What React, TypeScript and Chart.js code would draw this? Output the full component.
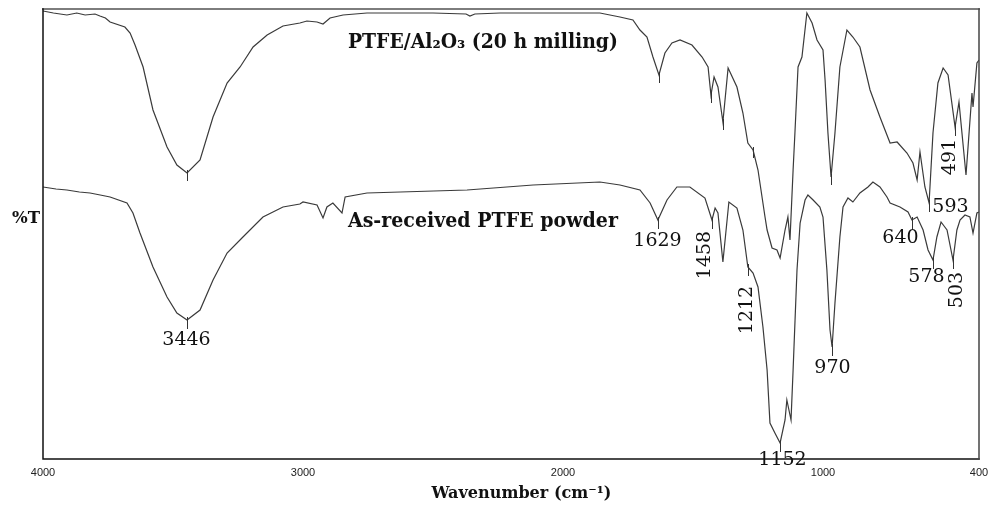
import React, { useEffect, useRef } from 'react';
import { Chart, registerables } from 'chart.js';

Chart.register(...registerables);

// ---- Data (wavenumber in cm-1, %T in arbitrary units) ----
const milledWavenumbers = [
  4000, 3960, 3908, 3870, 3838, 3800, 3781, 3760, 3742, 3685, 3665, 3646, 3615, 3577, 3523, 3485, 3446,
  3396, 3346, 3292, 3242, 3192, 3138, 3077, 3012, 2985, 2946, 2923, 2896, 2846, 2754, 2500, 2373, 2358,
  2339, 2242, 1858, 1781, 1731, 1704, 1677, 1654, 1631, 1608, 1581, 1550, 1504, 1465, 1442, 1431, 1419,
  1404, 1385, 1365, 1331, 1308, 1289, 1269, 1250, 1223, 1215, 1196, 1177, 1165, 1146, 1135, 1127, 1115,
  1108, 1096, 1081, 1062, 1042, 1023, 1000, 992, 981, 969, 954, 935, 908, 885, 858, 819, 781, 742, 715,
  677, 654, 638, 627, 608, 592, 577, 558, 538, 519, 492, 477, 450, 427, 423, 408, 400,
];
const milledTransmittance = [
  89.6, 89.2, 88.8, 89.2, 88.8, 89.0, 88.6, 88.2, 87.4, 86.4, 85.2, 82.8, 78.4, 69.8, 62.4, 58.8, 57.2,
  59.8, 68.4, 75.2, 78.4, 82.4, 84.8, 86.6, 87.2, 87.6, 87.4, 87.0, 88.2, 88.8, 89.2, 89.2, 89.0, 88.6,
  89.0, 89.2, 89.2, 88.4, 87.8, 85.8, 84.4, 80.4, 76.8, 81.2, 83.2, 83.8, 82.8, 80.4, 78.4, 72.8, 76.4,
  74.4, 67.4, 78.2, 74.4, 69.2, 63.2, 61.8, 57.8, 48.4, 45.8, 42.2, 41.8, 40.2, 45.8, 48.4, 43.8, 57.8,
  65.2, 78.4, 80.4, 89.2, 87.2, 83.8, 81.8, 75.8, 65.2, 56.4, 65.2, 78.4, 85.8, 84.4, 82.4, 73.8, 68.4, 63.2, 63.4,
  61.2, 59.2, 55.8, 61.4, 54.4, 51.2, 65.2, 75.2, 78.2, 76.8, 66.4, 71.4, 56.8, 73.2, 70.4, 79.2, 79.8,
];

const rawWavenumbers = [
  4000, 3950, 3908, 3860, 3819, 3780, 3742, 3677, 3654, 3627, 3577, 3523, 3485, 3446, 3396, 3346, 3292,
  3231, 3154, 3077, 3012, 3000, 2946, 2923, 2908, 2885, 2850, 2838, 2754, 2369, 2115, 1858, 1781, 1704,
  1665, 1635, 1600, 1562, 1512, 1454, 1427, 1415, 1404, 1385, 1362, 1331, 1308, 1289, 1269, 1250, 1231,
  1215, 1204, 1185, 1165, 1146, 1139, 1123, 1115, 1100, 1088, 1069, 1058, 1038, 1012, 1000, 985, 973,
  965, 954, 935, 923, 904, 885, 858, 827, 808, 781, 754, 742, 704, 673, 658, 638, 615, 596, 577, 562,
  546, 523, 500, 485, 473, 454, 435, 423, 408, 400,
];
const rawTransmittance = [
  54.4, 54.0, 53.8, 53.4, 53.2, 52.8, 52.4, 51.2, 49.2, 45.2, 38.4, 32.4, 29.2, 27.8, 29.8, 35.8, 41.2,
  44.4, 48.4, 50.4, 51.0, 51.4, 50.8, 48.2, 50.4, 51.2, 49.2, 52.4, 53.2, 53.8, 54.8, 55.4, 54.8, 53.8,
  51.2, 47.8, 51.8, 54.4, 54.4, 52.2, 47.8, 50.2, 49.2, 39.4, 51.4, 50.2, 45.8, 38.4, 37.2, 34.4, 26.4,
  17.8, 7.2, 5.2, 3.2, 7.8, 11.8, 7.8, 17.8, 37.8, 47.2, 51.8, 52.8, 51.8, 50.4, 48.4, 37.8, 25.8,
  22.4, 31.2, 44.4, 50.4, 52.2, 51.4, 53.2, 54.4, 55.4, 54.4, 52.4, 51.2, 50.4, 49.4, 47.8, 48.4, 45.8, 41.8, 39.8, 44.4,
  47.4, 45.8, 39.8, 45.8, 47.8, 48.8, 48.4, 45.2, 49.2, 49.4,
];

const seriesNames = ['PTFE/Al₂O₃ (20 h milling)', 'As-received PTFE powder'];
const xTickValues = [4000, 3000, 2000, 1000, 400];
const xAxisTitle = 'Wavenumber (cm⁻¹)';
const yAxisTitle = '%T';

// peak annotations: label text, wavenumber, series index (0 = milled, 1 = as-received)
const peakLabels = ['3446', '1629', '1458', '1212', '1152', '970', '640', '578', '503', '593', '491'];
const peakWavenumbers = [3446, 1635, 1427, 1289, 1165, 965, 658, 577, 500, 592, 492];
const peakSeries = [1, 1, 1, 1, 1, 1, 1, 1, 1, 0, 0];
const milledPeakMarks = [3446, 1631, 1431, 1385, 1269, 969];

// label layout (pixel offsets from the marked point, rotation flag)
const peakLayout = [
  { dx: -1, dy: 20, rot: false },
  { dx: -1, dy: 21, rot: false },
  { dx: -7, dy: 35, rot: true },
  { dx: -1, dy: 43, rot: true },
  { dx: 2, dy: 17, rot: false },
  { dx: 0, dy: 21, rot: false },
  { dx: -12, dy: 18, rot: false },
  { dx: -7, dy: 17, rot: false },
  { dx: 4, dy: 30, rot: true },
  { dx: 21, dy: 4, rot: false },
  { dx: -5, dy: 30, rot: true },
];

function valueAt(wns: number[], vals: number[], wn: number): number {
  for (let i = 0; i < wns.length - 1; i++) {
    const a = wns[i], b = wns[i + 1];
    if ((wn <= a && wn >= b) || (wn >= a && wn <= b)) {
      const t = a === b ? 0 : (wn - a) / (b - a);
      return vals[i] + t * (vals[i + 1] - vals[i]);
    }
  }
  return vals[vals.length - 1];
}

function drawFitted(
  ctx: CanvasRenderingContext2D,
  text: string,
  cx: number,
  cy: number,
  font: string,
  targetWidth?: number,
  rotate?: boolean,
) {
  ctx.save();
  ctx.font = font;
  ctx.textAlign = 'center';
  ctx.textBaseline = 'middle';
  ctx.translate(cx, cy);
  if (rotate) ctx.rotate(-Math.PI / 2);
  if (targetWidth) {
    const w = ctx.measureText(text).width;
    if (w > 0) ctx.scale(targetWidth / w, 1);
  }
  ctx.fillText(text, 0, 0);
  ctx.restore();
}

const framePlugin = {
  id: 'ftirFrame',
  afterDraw(chart: any) {
    const { ctx, chartArea } = chart;
    const { left, right, top, bottom } = chartArea;
    ctx.save();
    ctx.lineCap = 'square';
    ctx.strokeStyle = '#7d7d7d';
    ctx.lineWidth = 2;
    ctx.beginPath();
    ctx.moveTo(left, top);
    ctx.lineTo(right, top);
    ctx.stroke();
    ctx.strokeStyle = '#111';
    ctx.lineWidth = 1.5;
    ctx.beginPath();
    ctx.moveTo(left, top);
    ctx.lineTo(left, bottom);
    ctx.lineTo(right, bottom);
    ctx.stroke();
    ctx.strokeStyle = '#444';
    ctx.beginPath();
    ctx.moveTo(right, top);
    ctx.lineTo(right, bottom);
    ctx.stroke();
    ctx.restore();
  },
};

const textPlugin = {
  id: 'ftirText',
  afterDraw(chart: any) {
    const { ctx, chartArea } = chart;
    const xs = chart.scales.x;
    const ys = chart.scales.y;
    ctx.save();
    ctx.fillStyle = '#111';
    ctx.strokeStyle = '#333';
    ctx.lineWidth = 1;

    // series labels
    drawFitted(ctx, seriesNames[0], xs.getPixelForValue(2308), ys.getPixelForValue(83.2), 'bold 20px "DejaVu Serif"', 270);
    drawFitted(ctx, seriesNames[1], xs.getPixelForValue(2308), ys.getPixelForValue(47.4), 'bold 20px "DejaVu Serif"', 270);

    // axis titles
    drawFitted(ctx, yAxisTitle, chartArea.left - 17, ys.getPixelForValue(48), 'bold 16px "DejaVu Serif"', 28);
    drawFitted(ctx, xAxisTitle, xs.getPixelForValue(2160), 494, 'bold 16px "DejaVu Serif"', 180);

    // small peak marks on the milled trace
    milledPeakMarks.forEach((wn) => {
      const px = Math.round(xs.getPixelForValue(wn)) + 0.5;
      const py = ys.getPixelForValue(valueAt(milledWavenumbers, milledTransmittance, wn));
      ctx.beginPath();
      ctx.moveTo(px, py - 3);
      ctx.lineTo(px, py + 8);
      ctx.stroke();
    });

    // labelled peaks
    peakLabels.forEach((label, i) => {
      const wn = peakWavenumbers[i];
      const v = peakSeries[i] === 0
        ? valueAt(milledWavenumbers, milledTransmittance, wn)
        : valueAt(rawWavenumbers, rawTransmittance, wn);
      const px = Math.round(xs.getPixelForValue(wn)) + 0.5;
      const py = ys.getPixelForValue(v);
      ctx.beginPath();
      ctx.moveTo(px, py - 3);
      ctx.lineTo(px, py + 9);
      ctx.stroke();
      const lay = peakLayout[i];
      drawFitted(ctx, label, px + lay.dx, py + lay.dy, '19px "DejaVu Serif"', undefined, lay.rot);
    });
    ctx.restore();
  },
};

export default function App() {
  const ref = useRef<HTMLCanvasElement>(null);
  useEffect(() => {
    document.body.style.margin = '0';
    const canvas = ref.current;
    if (!canvas) return;
    const chart = new Chart(canvas, {
      type: 'line',
      data: {
        datasets: [
          {
            label: seriesNames[0],
            data: milledWavenumbers.map((x, i) => ({ x, y: milledTransmittance[i] })),
            borderColor: '#3a3a3a',
            borderWidth: 1.2,
            pointRadius: 0,
            fill: false,
            tension: 0,
          },
          {
            label: seriesNames[1],
            data: rawWavenumbers.map((x, i) => ({ x, y: rawTransmittance[i] })),
            borderColor: '#3a3a3a',
            borderWidth: 1.2,
            pointRadius: 0,
            fill: false,
            tension: 0,
          },
        ],
      },
      options: {
        responsive: false,
        maintainAspectRatio: false,
        animation: false,
        layout: { padding: { left: 43, right: 11, top: 9, bottom: 0 } },
        plugins: {
          legend: { display: false },
          tooltip: { enabled: false },
          title: { display: false },
        },
        scales: {
          x: {
            type: 'linear',
            reverse: true,
            min: 400,
            max: 4000,
            grid: { display: false },
            border: { display: false },
            afterBuildTicks: (s: any) => {
              s.ticks = xTickValues.map((v) => ({ value: v }));
            },
            afterFit: (s: any) => {
              s.height = 49;
              s.paddingLeft = 0;
              s.paddingRight = 0;
            },
            ticks: {
              autoSkip: false,
              maxRotation: 0,
              padding: -1,
              color: '#222',
              font: { family: 'Liberation Sans', size: 11 },
              callback: (v: any) => String(v),
            },
          },
          y: { display: false, min: 0, max: 90 },
        },
      },
      plugins: [framePlugin, textPlugin],
    } as any);
    return () => chart.destroy();
  }, []);
  return <canvas ref={ref} width={990} height={508} style={{ display: 'block' }} />;
}
